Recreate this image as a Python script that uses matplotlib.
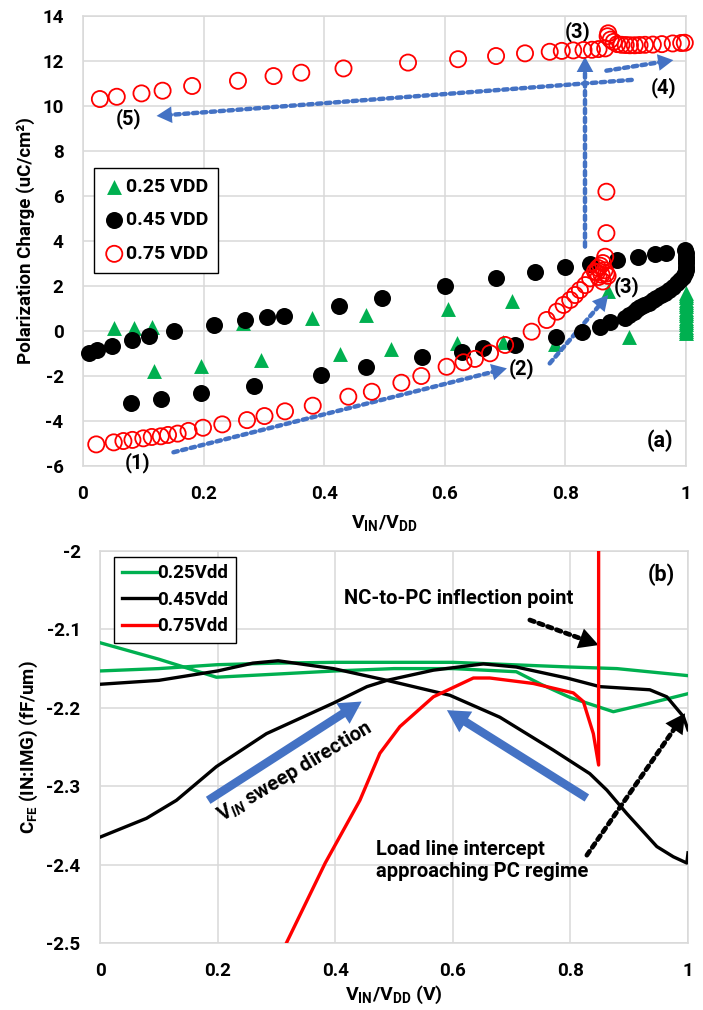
import matplotlib
matplotlib.use("Agg")
import matplotlib.pyplot as plt
from matplotlib.ticker import FuncFormatter

FONT = 'Roboto'
plt.rcParams['font.family'] = [FONT, 'DejaVu Sans']
plt.rcParams['font.weight'] = 'bold'
plt.rcParams['axes.unicode_minus'] = False
plt.rcParams['mathtext.fontset'] = 'custom'
plt.rcParams['mathtext.rm'] = FONT + ':bold'
plt.rcParams['mathtext.bf'] = FONT + ':bold'
plt.rcParams['mathtext.it'] = FONT + ':bold:italic'

# ---------------- Panel (a) data: polarization charge vs VIN/VDD -------------
green_x = [0.052, 0.085, 0.114, 0.118, 0.196, 0.265, 0.296, 0.380, 0.426, 0.470,
           0.511, 0.605, 0.621, 0.696, 0.712, 0.783, 0.871, 0.905,
           1.0, 1.0, 1.0, 1.0, 1.0, 1.0, 1.0, 1.0, 1.0, 1.0, 1.0, 1.0, 1.0, 1.0,
           1.0, 1.0, 1.0, 1.0, 1.0]
green_y = [0.12, 0.12, 0.16, -1.76, -1.56, 0.34, -1.29, 0.56, -1.02, 0.71,
           -0.81, 0.99, -0.55, -0.47, 1.33, -0.58, 1.78, -0.26,
           -0.1, 0.0, 0.1, 0.2, 0.3, 0.4, 0.5, 0.6, 0.7, 0.8, 0.9, 1.0, 1.1, 1.2,
           1.3, 1.4, 1.5, 1.6, 1.7]

black_x = [0.010, 0.024, 0.048, 0.082, 0.110, 0.151, 0.217, 0.269, 0.305, 0.334,
           0.425, 0.496, 0.601, 0.685, 0.750, 0.800, 0.840, 0.885, 0.921, 0.949,
           0.967, 0.998,
           0.079, 0.130, 0.196, 0.284, 0.395, 0.470, 0.563, 0.628, 0.664, 0.716,
           0.785, 0.827, 0.857, 0.874, 0.899, 0.906, 0.913, 0.919, 0.924, 0.931,
           0.938, 0.945, 0.951, 0.958, 0.965, 0.972, 0.979, 0.985, 0.990, 0.995,
           0.998, 1.0, 1.0, 1.0, 1.0, 1.0, 1.0]
black_y = [-0.99, -0.84, -0.67, -0.40, -0.22, 0.00, 0.25, 0.49, 0.61, 0.67,
           1.11, 1.45, 2.00, 2.34, 2.64, 2.86, 3.00, 3.16, 3.30, 3.42,
           3.45, 3.60,
           -3.21, -3.04, -2.77, -2.43, -1.96, -1.59, -1.14, -0.92, -0.74, -0.62,
           -0.28, -0.03, 0.19, 0.41, 0.60, 0.73, 0.86, 0.97, 1.08, 1.17,
           1.26, 1.36, 1.45, 1.58, 1.70, 1.84, 1.97, 2.12, 2.27, 2.42,
           2.56, 2.71, 2.86, 3.01, 3.16, 3.31, 3.45]

red_x = [0.022, 0.051, 0.067, 0.082, 0.100, 0.114, 0.129, 0.141, 0.157, 0.175,
         0.199, 0.231, 0.272, 0.301, 0.335, 0.381, 0.440, 0.479, 0.528, 0.561,
         0.603, 0.631, 0.650, 0.675, 0.700, 0.744, 0.769, 0.786, 0.797, 0.808,
         0.816, 0.824, 0.833, 0.841, 0.849, 0.854, 0.862, 0.866,
         0.855, 0.860, 0.865, 0.858, 0.868, 0.862, 0.852, 0.870,
         0.868, 0.868,
         0.871, 0.870, 0.875, 0.880, 0.886, 0.893, 0.900, 0.907, 0.915, 0.923,
         0.932, 0.945, 0.960, 0.978, 0.992, 0.998,
         0.866, 0.855, 0.844, 0.830, 0.813, 0.794, 0.774, 0.733, 0.685, 0.622,
         0.539, 0.432, 0.362, 0.316, 0.257, 0.181, 0.132, 0.097, 0.056, 0.028]
red_y = [-5.04, -4.95, -4.89, -4.84, -4.77, -4.71, -4.68, -4.62, -4.56, -4.44,
         -4.30, -4.15, -3.96, -3.78, -3.57, -3.32, -2.92, -2.70, -2.30, -2.00,
         -1.59, -1.39, -1.24, -0.99, -0.62, -0.03, 0.49, 0.86, 1.16, 1.38,
         1.60, 1.82, 2.04, 2.34, 2.64, 2.80, 3.02, 3.30,
         2.40, 2.50, 2.70, 2.90, 2.55, 2.20, 2.60, 2.45,
         4.35, 6.19,
         13.23, 13.10, 12.95, 12.85, 12.75, 12.72, 12.71, 12.70, 12.70, 12.71,
         12.72, 12.73, 12.75, 12.78, 12.80, 12.81,
         12.56, 12.53, 12.50, 12.49, 12.47, 12.45, 12.41, 12.34, 12.22, 12.08,
         11.93, 11.67, 11.48, 11.33, 11.12, 10.89, 10.68, 10.56, 10.41, 10.31]

a_labels = ['0.25 VDD', '0.45 VDD', '0.75 VDD']
a_xticks = [0, 0.2, 0.4, 0.6, 0.8, 1]
a_yticks = [-6, -4, -2, 0, 2, 4, 6, 8, 10, 12, 14]

# ---------------- Panel (b) data: C_FE vs VIN/VDD ----------------------------
g1_x = [0.0, 0.1, 0.198, 0.3, 0.4, 0.5, 0.6, 0.708, 0.75, 0.8, 0.873, 0.93, 1.0]
g1_y = [-2.117, -2.138, -2.161, -2.157, -2.153, -2.150, -2.150, -2.154, -2.170,
        -2.187, -2.205, -2.195, -2.182]
g2_x = [0.0, 0.1, 0.2, 0.3, 0.4, 0.5, 0.6, 0.7, 0.8, 0.879, 1.0]
g2_y = [-2.153, -2.150, -2.145, -2.143, -2.142, -2.142, -2.142, -2.145, -2.148,
        -2.150, -2.159]
k1_x = [0.0, 0.1, 0.2, 0.26, 0.303, 0.397, 0.488, 0.595, 0.68, 0.771, 0.833,
        0.862, 0.896, 0.947, 0.975, 0.998, 1.0]
k1_y = [-2.170, -2.165, -2.153, -2.143, -2.140, -2.150, -2.165, -2.184, -2.212,
        -2.254, -2.284, -2.305, -2.335, -2.377, -2.390, -2.398, -2.385]
k2_x = [0.0, 0.079, 0.130, 0.198, 0.283, 0.397, 0.454, 0.488, 0.567, 0.652,
        0.708, 0.794, 0.850, 0.935, 0.964, 0.992, 1.0]
k2_y = [-2.365, -2.341, -2.318, -2.275, -2.233, -2.194, -2.173, -2.165, -2.152,
        -2.144, -2.148, -2.162, -2.173, -2.177, -2.186, -2.211, -2.228]
r_x = [0.317, 0.383, 0.442, 0.476, 0.510, 0.567, 0.635, 0.663, 0.737, 0.805,
       0.822, 0.839, 0.848, 0.848]
r_y = [-2.500, -2.398, -2.318, -2.258, -2.224, -2.186, -2.162, -2.162, -2.169,
       -2.181, -2.192, -2.233, -2.273, -1.900]
b_labels = ['0.25Vdd', '0.45Vdd', '0.75Vdd']
b_xticks = [0, 0.2, 0.4, 0.6, 0.8, 1]
b_yticks = [-2.5, -2.4, -2.3, -2.2, -2.1, -2.0]

GREEN = '#00B050'
BLUE = '#4472C4'
GRID = '#d9d9d9'

fig = plt.figure(figsize=(7.03, 10.10), dpi=100)
ax1 = fig.add_axes([83/703, 1-466/1010, 603/703, 450/1010])
ax2 = fig.add_axes([100/703, 1-943/1010, 588/703, 392/1010])

fmt = FuncFormatter(lambda v, p: ('%g' % round(v, 3)))

for ax in (ax1, ax2):
    ax.set_axisbelow(True)
    ax.grid(True, color=GRID, lw=1.1)
    for s in ax.spines.values():
        s.set_color(GRID)
        s.set_linewidth(1.1)
    ax.tick_params(length=0, labelsize=13.5, pad=14)
    ax.xaxis.set_major_formatter(fmt)
    ax.yaxis.set_major_formatter(fmt)

# ---- panel (a)
ax1.scatter(green_x, green_y, marker='^', s=115, color=GREEN, linewidths=0,
            label=a_labels[0], zorder=3, clip_on=False)
ax1.scatter(black_x, black_y, marker='o', s=150, color='black', linewidths=0,
            label=a_labels[1], zorder=4, clip_on=False)
ax1.scatter(red_x, red_y, marker='o', s=135, facecolors='none',
            edgecolors='red', linewidths=1.3, label=a_labels[2], zorder=5,
            clip_on=False)
ax1.set_xlim(0, 1)
ax1.set_ylim(-6, 14)
ax1.set_xticks(a_xticks)
ax1.set_yticks(a_yticks)
ax1.set_ylabel('Polarization Charge (uC/cm²)', fontsize=13.5, fontweight='bold')
ax1.yaxis.set_label_coords((35-83)/603, 0.5)
ax1.set_xlabel(r'$\mathrm{V_{IN}/V_{DD}}$', fontsize=14)
ax1.xaxis.set_label_coords(0.5, (466-513)/450)
leg1 = ax1.legend(loc='upper left', bbox_to_anchor=(0.018, 0.662), frameon=True,
                  fancybox=False, edgecolor='black', framealpha=1,
                  prop={'weight': 'bold', 'size': 14}, labelspacing=0.8,
                  handletextpad=0.05, handlelength=1.1, borderpad=0.5,
                  borderaxespad=0)
leg1.get_frame().set_linewidth(1.0)
for h in leg1.legend_handles:
    h.set_clip_on(False)


def dotted_arrow(ax, start, end, color, lw, hw, hl, dash=(0, (1, 1))):
    ax.annotate('', xy=end, xytext=start,
                arrowprops=dict(arrowstyle='-', linestyle=dash, lw=lw,
                                color=color, shrinkA=0, shrinkB=hl * 0.6))
    ax.annotate('', xy=end, xytext=start,
                arrowprops=dict(arrowstyle='simple,head_width=%g,head_length=%g,tail_width=0.001' % (hw, hl),
                                fc=color, ec='none', lw=0, mutation_scale=1,
                                shrinkA=0, shrinkB=0))


dotted_arrow(ax1, (0.15, -5.39), (0.703, -1.66), BLUE, 3.2, 12, 11)
dotted_arrow(ax1, (0.774, -1.44), (0.871, 1.60), BLUE, 3.2, 12, 11)
dotted_arrow(ax1, (0.8325, 3.75), (0.8325, 12.19), BLUE, 3.2, 12, 11)
dotted_arrow(ax1, (0.868, 11.57), (0.979, 12.04), BLUE, 3.2, 12, 11)
dotted_arrow(ax1, (0.91, 11.16), (0.122, 9.56), BLUE, 3.2, 12, 11)

tkw = dict(fontsize=14.5, fontweight='bold', ha='center', va='center')
ax1.text(0.091, -5.85, '(1)', **tkw)
ax1.text(0.727, -1.66, '(2)', **tkw)
ax1.text(0.902, 1.97, '(3)', **tkw)
ax1.text(0.82, 13.3, '(3)', **tkw)
ax1.text(0.962, 10.8, '(4)', **tkw)
ax1.text(0.075, 9.42, '(5)', **tkw)
ax1.text(0.957, -4.9, '(a)', fontsize=15.5, fontweight='bold', ha='center', va='center')

# ---- panel (b)
ax2.plot(g1_x, g1_y, color=GREEN, lw=2.4, label=b_labels[0], zorder=3)
ax2.plot(g2_x, g2_y, color=GREEN, lw=2.4, zorder=3)
ax2.plot(k1_x, k1_y, color='black', lw=2.4, label=b_labels[1], zorder=4)
ax2.plot(k2_x, k2_y, color='black', lw=2.4, zorder=4)
ax2.plot(r_x, r_y, color='red', lw=2.4, label=b_labels[2], zorder=5)
ax2.set_xlim(0, 1)
ax2.set_ylim(-2.5, -2.0)
ax2.set_xticks(b_xticks)
ax2.set_yticks(b_yticks)
ax2.set_ylabel(r'$\mathrm{C_{FE}}$ (IN:IMG) (fF/um)', fontsize=13.5, fontweight='bold')
ax2.yaxis.set_label_coords((40-100)/588, 0.5)
ax2.set_xlabel(r'$\mathrm{V_{IN}/V_{DD}}$ (V)', fontsize=14, fontweight='bold')
ax2.xaxis.set_label_coords(0.5, (943-984)/392)
leg2 = ax2.legend(loc='upper left', bbox_to_anchor=(0.024, 0.985), frameon=True,
                  fancybox=False, edgecolor='black', framealpha=1,
                  prop={'weight': 'bold', 'size': 13.5}, labelspacing=0.45,
                  handletextpad=0.0, handlelength=1.9, borderpad=0.4,
                  borderaxespad=0)
leg2.get_frame().set_linewidth(1.0)

# blue sweep-direction arrows
for (s, e) in [((0.184, -2.318), (0.445, -2.192)), ((0.828, -2.315), (0.59, -2.203))]:
    ax2.annotate('', xy=e, xytext=s,
                 arrowprops=dict(arrowstyle='simple,head_width=1.1,head_length=1.0,tail_width=0.38',
                                 fc=BLUE, ec='none', mutation_scale=16,
                                 shrinkA=0, shrinkB=0))

dotted_arrow(ax2, (0.731, -2.088), (0.848, -2.120), 'black', 3.4, 15, 14)
dotted_arrow(ax2, (0.828, -2.388), (0.995, -2.207), 'black', 3.4, 15, 14)

ax2.text(0.955, -2.03, '(b)', fontsize=15.5, fontweight='bold', ha='center', va='center')
ax2.text(0.61, -2.061, 'NC-to-PC inflection point', fontsize=14.5, fontweight='bold',
         ha='center', va='center')
ax2.text(0.469, -2.395, 'Load line intercept\napproaching PC regime', fontsize=14.5,
         fontweight='bold', ha='left', va='center', linespacing=1.2)
ax2.text(0.332, -2.281, r'$\mathrm{V}_{\mathit{IN}}$ sweep direction', fontsize=14.5,
         fontweight='bold', ha='center', va='center', rotation=31,
         rotation_mode='anchor')

fig.savefig('out.png', dpi=100)
